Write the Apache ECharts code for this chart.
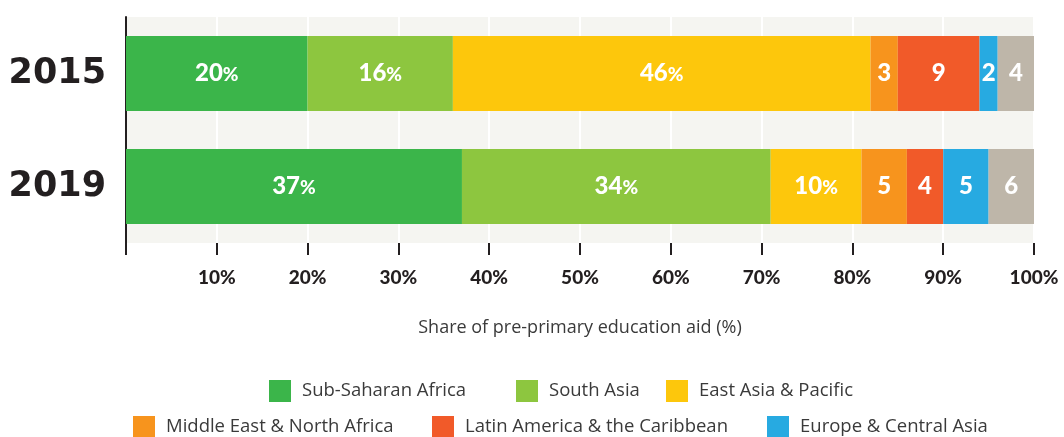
<!DOCTYPE html>
<html><head><meta charset="utf-8">
<script src="https://cdn.jsdelivr.net/npm/echarts@6/dist/echarts.min.js"></script>
<style>html,body{margin:0;padding:0;background:#fff}#c{width:1064px;height:437px}</style>
</head><body><div id="c"></div>
<script>
const years = ['2015', '2019'];
const regions = ['Sub-Saharan Africa', 'South Asia', 'East Asia & Pacific', 'Middle East & North Africa', 'Latin America & the Caribbean', 'Europe & Central Asia', 'Other'];
const colors = ['#3bb54a', '#8dc63f', '#fdc70c', '#f7941d', '#f15a29', '#27aae1', '#beb6a9'];
const values = [
  [20, 37],
  [16, 34],
  [46, 10],
  [3, 5],
  [9, 4],
  [2, 5],
  [4, 6]
];
const pctSeries = [0, 1, 2];
const legendLefts = [264, 511, 661, 128, 427, 762];
const legendTops = [375, 375, 375, 411, 411, 411];

const chart = echarts.init(document.getElementById('c'));
const series = regions.map((name, i) => ({
  name: name,
  type: 'bar',
  stack: 'total',
  barWidth: 75,
  clip: true,
  itemStyle: { color: colors[i] },
  label: {
    show: true,
    position: 'inside',
    color: '#fff',
    formatter: p => pctSeries.includes(i) ? '{n|' + p.value + '}{p|%}' : '{n|' + p.value + '}',
    rich: {
      n: { fontFamily: 'Lato', fontWeight: 900, fontSize: 24, color: '#fff' },
      p: { fontFamily: 'Lato', fontWeight: 900, fontSize: 19, color: '#fff', padding: [3, 0, 0, 0] }
    }
  },
  emphasis: { disabled: true },
  data: values[i]
}));

const legends = regions.slice(0, 6).map((name, i) => ({
  data: [name],
  left: legendLefts[i],
  top: legendTops[i],
  itemWidth: 22,
  itemHeight: 22,
  itemGap: 0,
  icon: 'rect',
  selectedMode: false,
  textStyle: { fontFamily: 'Open Sans', fontSize: 18.5, color: '#3a3a3a', padding: [0, 0, 0, 6] }
}));

chart.setOption({
  animation: false,
  legend: legends,
  grid: { left: 126, right: 30, top: 17, bottom: 194, show: true, backgroundColor: '#f5f5f1', borderWidth: 0 },
  xAxis: {
    type: 'value',
    min: 0, max: 100, interval: 10,
    name: 'Share of pre-primary education aid (%)',
    nameLocation: 'middle',
    nameGap: 76,
    nameTextStyle: { fontFamily: 'Open Sans', fontSize: 18, color: '#3a3a3a' },
    axisLine: { show: false },
    axisTick: { show: true, length: 12, lineStyle: { color: '#231f20', width: 2 } },
    splitLine: { show: true, lineStyle: { color: '#ffffff', width: 2 } },
    axisLabel: {
      margin: 25,
      fontFamily: 'Lato', fontWeight: 900, fontSize: 19, color: '#231f20',
      formatter: v => v === 0 ? '' : v + '%'
    }
  },
  yAxis: {
    type: 'category',
    data: years,
    inverse: true,
    axisLine: { show: true, lineStyle: { color: '#231f20', width: 2 } },
    axisTick: { show: false },
    axisLabel: { margin: 20, fontFamily: 'DejaVu Sans', fontWeight: 'bold', fontSize: 35, color: '#231f20' }
  },
  series: series
});
</script></body></html>
